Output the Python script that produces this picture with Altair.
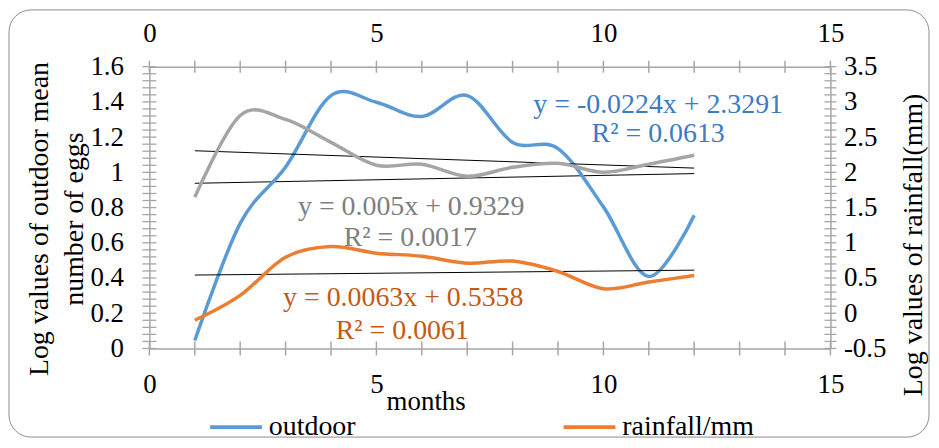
import altair as alt
import pandas as pd

# ---- data ----
months = [1, 2, 3, 4, 5, 6, 7, 8, 9, 10, 11, 12]
outdoor = [0.045, 0.71, 1.03, 1.436, 1.398, 1.317, 1.436, 1.17, 1.135, 0.804, 0.409, 0.757]
second_series = [1.648, 2.807, 2.751, 2.426, 2.101, 2.115, 1.945, 2.072, 2.129, 2.002, 2.115, 2.242]
rainfall = [-0.1, 0.253, 0.796, 0.946, 0.853, 0.81, 0.711, 0.74, 0.593, 0.348, 0.443, 0.536]

# trendlines (slope, intercept) as printed on the chart
trend_outdoor = (0.005, 0.9329)
trend_second = (-0.0224, 2.3291)
trend_rain = (0.0063, 0.5358)

x_labels = [0, 5, 10, 15]
left_labels = [0, 0.2, 0.4, 0.6, 0.8, 1.0, 1.2, 1.4, 1.6]
right_labels = [-0.5, 0, 0.5, 1, 1.5, 2, 2.5, 3, 3.5]
x_ticks = list(range(0, 16))
left_ticks = [round(i * 0.04, 2) for i in range(41)]
right_ticks = [round(-0.5 + i * 0.1, 2) for i in range(41)]

FONT = "Liberation Serif"
AX = "#A6A6A6"
BLUE, ORANGE, GRAY = "#5B9BD5", "#ED7D31", "#A5A5A5"
W, H = 684, 283

xsc = alt.Scale(domain=[0, 15], nice=False, zero=False)
yl = alt.Scale(domain=[0, 1.6], nice=False, zero=False)
yr = alt.Scale(domain=[-0.5, 3.5], nice=False, zero=False)

lab = "datum.value < 0 ? '-' + format(-datum.value, '~g') : format(datum.value, '~g')"
common = dict(ticks=False, grid=False, domainColor=AX, domainWidth=1.5, labelFont=FONT,
              labelFontSize=27, labelColor="black", title=None, labelFlush=False,
              labelOverlap=False, labelExpr=lab)
ax_bottom = alt.Axis(orient="bottom", values=x_labels, labelPadding=23, **common)
ax_top = alt.Axis(orient="top", values=x_labels, labelPadding=19, **common)
ax_left = alt.Axis(orient="left", values=left_labels, labelPadding=26, **common)
ax_right = alt.Axis(orient="right", values=right_labels, labelPadding=13, **common)

color_scale = alt.Scale(domain=["outdoor", "rainfall/mm"], range=[BLUE, ORANGE])
legend = alt.Legend(orient="none", legendX=59, legendY=334, direction="horizontal", title=None,
                    symbolType="stroke", symbolSize=2704, symbolStrokeWidth=4,
                    labelFont=FONT, labelFontSize=28, labelColor="black", labelOffset=5,
                    columnPadding=200, values=["outdoor", "rainfall/mm"])

one = pd.DataFrame({"k": [0]})


def series_df(vals, name):
    return pd.DataFrame({"month": months, "value": vals, "series": name})


def trend_df(mb):
    m, b = mb
    return pd.DataFrame({"month": [1, 12], "value": [m * 1 + b, m * 12 + b]})


def xb(f):
    return alt.X(f"{f}:Q", scale=xsc, axis=ax_bottom)


def xt(f):
    return alt.X(f"{f}:Q", scale=xsc, axis=ax_top)


def text(s, x, y, color, size=28, angle=0, baseline="middle"):
    kw = dict(text=s, font=FONT, fontSize=size, color=color, align="center", baseline=baseline)
    if angle:
        kw["angle"] = angle
    return alt.Chart(one).mark_text(**kw).encode(x=alt.value(x), y=alt.value(y))


yL = alt.Y("value:Q", scale=yl, axis=ax_left)
yR = alt.Y("value:Q", scale=yr, axis=ax_right)

border = alt.Chart(one).mark_rect(fill="white", fillOpacity=0, stroke="#8C8C8C", strokeWidth=1,
                                  cornerRadius=22).encode(
    x=alt.value(-141), x2=alt.value(783), y=alt.value(-57), y2=alt.value(372))

bottom_ticks = alt.Chart(pd.DataFrame({"t": x_ticks})).mark_rule(color=AX, strokeWidth=1.5).encode(
    x=xb("t"), y=alt.value(276), y2=alt.value(290))
left_tick_marks = alt.Chart(pd.DataFrame({"value": left_ticks})).mark_rule(color=AX, strokeWidth=1.3).encode(
    y=yL, x=alt.value(-7), x2=alt.value(7))
trend_l = alt.Chart(trend_df(trend_outdoor)).mark_line(color="black", strokeWidth=1).encode(x=xb("month"), y=yL)
blue_line = alt.Chart(series_df(outdoor, "outdoor")).mark_line(
    strokeWidth=3.5, interpolate="cardinal").encode(
    x=xb("month"), y=yL, color=alt.Color("series:N", scale=color_scale, legend=legend))

left_group = alt.layer(border, trend_l, bottom_ticks, left_tick_marks, blue_line)

top_ticks = alt.Chart(pd.DataFrame({"t": x_ticks})).mark_rule(color=AX, strokeWidth=1.5).encode(
    x=xt("t"), y=alt.value(-6), y2=alt.value(6))
right_tick_marks = alt.Chart(pd.DataFrame({"value": right_ticks})).mark_rule(color=AX, strokeWidth=1.3).encode(
    y=yR, x=alt.value(678), x2=alt.value(690))
trend_s = alt.Chart(trend_df(trend_second)).mark_line(color="black", strokeWidth=1).encode(x=xt("month"), y=yR)
trend_r = alt.Chart(trend_df(trend_rain)).mark_line(color="black", strokeWidth=1).encode(x=xt("month"), y=yR)
gray_line = alt.Chart(series_df(second_series, "series 2")).mark_line(
    strokeWidth=3.5, interpolate="cardinal", color=GRAY).encode(x=xt("month"), y=yR)
orange_line = alt.Chart(series_df(rainfall, "rainfall/mm")).mark_line(
    strokeWidth=3.5, interpolate="cardinal").encode(
    x=xt("month"), y=yR, color=alt.Color("series:N", scale=color_scale, legend=legend))

texts = [
    text("y = -0.0224x + 2.3291", 511, 39, "#3B7CC4"),
    text("R² = 0.0613", 511, 68, "#3B7CC4"),
    text("y = 0.005x + 0.9329", 263, 141, "#7F7F7F"),
    text("R² = 0.0017", 262, 172, "#7F7F7F"),
    text("y = 0.0063x + 0.5358", 255, 232, "#C55A11"),
    text("R² = 0.0061", 254, 266, "#C55A11"),
    text("months", 278, 345, "black", size=27, baseline="alphabetic"),
    text("Log values of outdoor mean", -102, 153, "black", size=28, angle=270, baseline="alphabetic"),
    text("number of eggs", -67, 153, "black", size=28, angle=270, baseline="alphabetic"),
    text("Log values of rainfall(mm)", 776, 179, "black", size=28, angle=270, baseline="alphabetic"),
]

right_group = alt.layer(top_ticks, right_tick_marks, trend_s, trend_r, gray_line, orange_line, *texts)

chart = alt.layer(left_group, right_group).resolve_scale(
    y="independent", x="independent").resolve_axis(x="independent", y="independent").properties(
    width=W, height=H,
    autosize=alt.AutoSizeParams(type="none"),
    padding={"left": 142, "top": 58, "right": 101, "bottom": 91},
    background="white",
).configure_view(stroke=None)

chart.save("out.html", embed_options={"renderer": "svg", "actions": False})
